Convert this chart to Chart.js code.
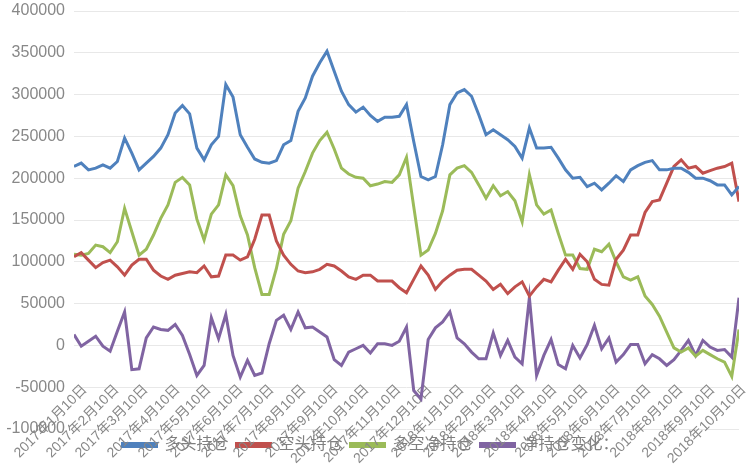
<!DOCTYPE html>
<html>
<head>
<meta charset="utf-8">
<script src="https://cdn.jsdelivr.net/npm/chart.js@4.4.1/dist/chart.umd.min.js"></script>
<style>
    html, body { margin: 0; padding: 0; background: #ffffff; }
    #chart { display: block; }
</style>
</head>
<body>
<canvas id="chart" width="749" height="469"></canvas>
<script>
// Weekly data, first week 2017-01-10
const startDate = '2017-01-10';
const weekCount = 93;

const seriesNames = ['多头持仓', '空头持仓', '多空净持仓', '净持仓变化：'];
const seriesColors = ['#4F81BD', '#C0504D', '#9BBB59', '#8064A2'];

const longPos = [
    214000, 218000, 210000, 212000, 216000, 212000, 220000, 248000, 230000, 210000,
    218000, 226000, 236000, 252000, 278000, 287000, 277000, 236000, 222000, 240000,
    250000, 312000, 297000, 252000, 237000, 223000, 219000, 218000, 221000, 240000,
    245000, 280000, 296000, 322000, 338000, 352000, 328000, 304000, 288000, 279000,
    285000, 275000, 268000, 273000, 273000, 274000, 288000, 244000, 202000, 198000,
    202000, 240000, 288000, 302000, 306000, 298000, 276000, 252000, 258000, 252000,
    246000, 238000, 224000, 260000, 236000, 236000, 237000, 224000, 210000, 200000,
    201000, 190000, 194000, 186000, 194000, 203000, 196000, 210000, 215000, 219000,
    221000, 210000, 210000, 212000, 212000, 207000, 200000, 200000, 197000, 192000,
    192000, 180000, 190000
];

const shortPos = [
    106000, 111000, 102000, 93000, 99000, 102000, 94000, 84000, 96000, 103000,
    103000, 90000, 83000, 79000, 84000, 86000, 88000, 87000, 95000, 82000,
    83000, 108000, 108000, 102000, 106000, 127000, 156000, 156000, 125000, 108000,
    97000, 89000, 87000, 88000, 91000, 97000, 95000, 89000, 82000, 79000,
    84000, 84000, 77000, 77000, 77000, 69000, 63000, 79000, 95000, 84000,
    67000, 77000, 84000, 90000, 91000, 91000, 84000, 77000, 67000, 73000,
    62000, 70000, 76000, 59000, 70000, 79000, 76000, 90000, 103000, 91000,
    109000, 100000, 79000, 73000, 72000, 103000, 114000, 132000, 132000, 159000,
    172000, 174000, 194000, 214000, 222000, 212000, 214000, 206000, 209000, 212000,
    214000, 218000, 172000
];

const netPos = [
    109000, 108000, 110000, 120000, 118000, 111000, 124000, 164000, 136000, 108000,
    115000, 132000, 152000, 168000, 195000, 201000, 192000, 151000, 126000, 157000,
    168000, 204000, 191000, 155000, 132000, 93000, 61000, 61000, 92000, 133000,
    149000, 188000, 208000, 230000, 245000, 255000, 235000, 212000, 205000, 201000,
    200000, 191000, 193000, 196000, 195000, 204000, 225000, 166000, 108000, 114000,
    134000, 161000, 204000, 212000, 215000, 207000, 192000, 176000, 191000, 179000,
    184000, 173000, 148000, 204000, 168000, 157000, 162000, 134000, 108000, 108000,
    92000, 91000, 115000, 112000, 121000, 100000, 82000, 78000, 82000, 59000,
    49000, 35000, 16000, -3000, -8000, -3000, -13000, -6000, -11000, -16000,
    -20000, -37000, 19000
];

const netChange = [
    13000, -1000, 5000, 11000, -1000, -7000, 17000, 40000, -29000, -28000,
    9000, 22000, 19000, 18000, 25000, 12000, -11000, -36000, -24000, 33000,
    8000, 37000, -12000, -38000, -18000, -36000, -33000, 2000, 30000, 36000,
    19000, 40000, 21000, 22000, 16000, 10000, -17000, -24000, -8000, -4000,
    0, -9000, 2000, 2000, 0, 5000, 22000, -54000, -64000, 7000,
    21000, 28000, 40000, 9000, 2000, -8000, -16000, -16000, 15000, -12000,
    6000, -14000, -22000, 57000, -36000, -12000, 7000, -23000, -28000, 0,
    -15000, 1000, 24000, -4000, 9000, -20000, -11000, 1000, 1000, -22000,
    -11000, -16000, -24000, -17000, -6000, 6000, -12000, 6000, -2000, -6000,
    -5000, -14000, 57000
];

// Tick labels on the x axis (10th of each month)
const tickLabels = [
    '2017年1月10日', '2017年2月10日', '2017年3月10日', '2017年4月10日', '2017年5月10日',
    '2017年6月10日', '2017年7月10日', '2017年8月10日', '2017年9月10日', '2017年10月10日',
    '2017年11月10日', '2017年12月10日', '2018年1月10日', '2018年2月10日', '2018年3月10日',
    '2018年4月10日', '2018年5月10日', '2018年6月10日', '2018年7月10日', '2018年8月10日',
    '2018年9月10日', '2018年10月10日'
];

const DAY = 24 * 3600 * 1000;
const FONT = "'Liberation Sans', 'Noto Sans CJK SC', sans-serif";

function daysFromStart(label) {
    const m = label.match(/(\d+)年(\d+)月(\d+)日/);
    const t = Date.UTC(+m[1], +m[2] - 1, +m[3]);
    return Math.round((t - Date.parse(startDate + 'T00:00:00Z')) / DAY);
}

function toPoints(values) {
    return values.map((v, i) => ({ x: i * 7, y: v }));
}

const tickDays = tickLabels.map(daysFromStart);
const allSeries = [longPos, shortPos, netPos, netChange];

const datasets = allSeries.map((values, i) => ({
    label: seriesNames[i],
    data: toPoints(values),
    borderColor: seriesColors[i],
    backgroundColor: seriesColors[i],
    borderWidth: 3,
    pointRadius: 0,
    tension: 0,
}));

new Chart(document.getElementById('chart'), {
    type: 'line',
    data: { datasets },
    options: {
        responsive: false,
        animation: false,
        layout: { padding: { left: 2, right: 10, top: 11, bottom: 6 } },
        plugins: {
            tooltip: { enabled: false },
            legend: {
                position: 'bottom',
                labels: {
                    boxWidth: 34,
                    boxHeight: 3,
                    padding: 8,
                    color: '#7f7f7f',
                    font: { family: FONT, size: 16 },
                },
            },
        },
        scales: {
            x: {
                type: 'linear',
                position: { y: 0 },
                min: 0,
                max: (weekCount - 1) * 7,
                grid: { display: false },
                border: { display: false },
                ticks: {
                    autoSkip: false,
                    minRotation: 45,
                    maxRotation: 45,
                    labelOffset: 11,
                    padding: 28,
                    color: '#888888',
                    font: { family: FONT, size: 14 },
                    callback: (value, index) => tickLabels[index],
                },
                afterBuildTicks: scale => {
                    scale.ticks = tickDays.map(d => ({ value: d }));
                },
                afterFit: scale => {
                    scale.paddingLeft = 0;
                    scale.paddingRight = 0;
                },
            },
            y: {
                min: -100000,
                max: 400000,
                grid: { color: '#e8e8e8', drawTicks: false },
                border: { display: false },
                ticks: {
                    stepSize: 50000,
                    padding: 9,
                    color: '#888888',
                    font: { family: FONT, size: 16 },
                    callback: value => String(value),
                },
                afterFit: scale => {
                    scale.width = 72;
                    scale.paddingTop = 0;
                    scale.paddingBottom = 0;
                },
            },
        },
    },
});
</script>
</body>
</html>
